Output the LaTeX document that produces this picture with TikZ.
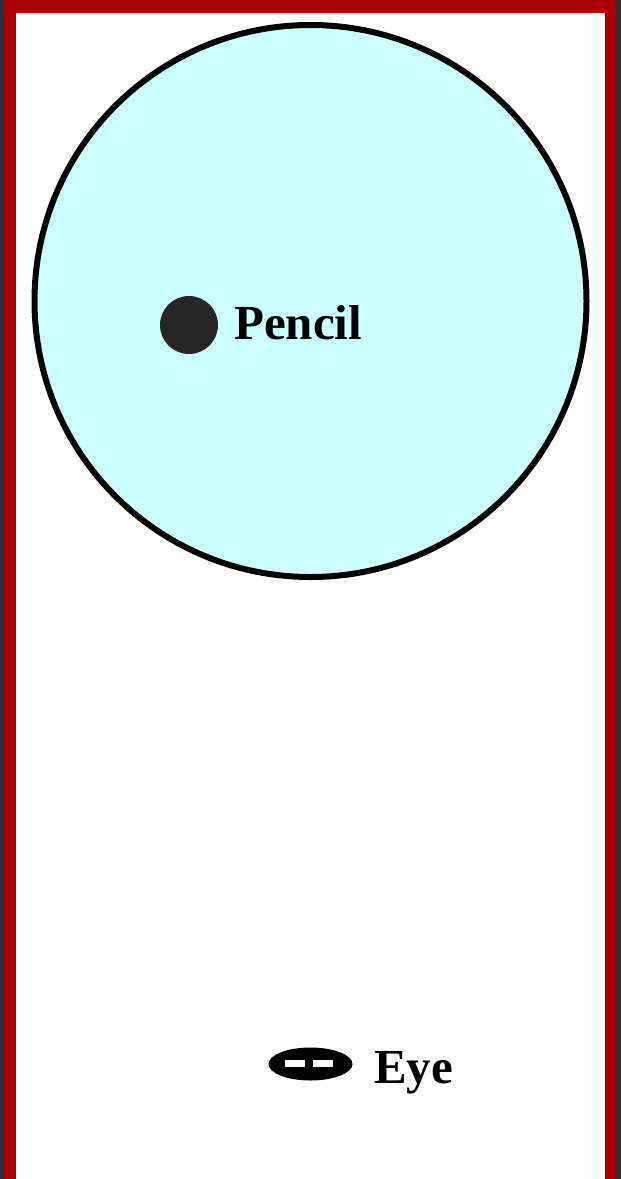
\documentclass[tikz,border=0pt]{standalone}
\usepackage{fontspec}
\setmainfont{Liberation Serif}
\usetikzlibrary{shapes.geometric}
\begin{document}
\begin{tikzpicture}[x=1pt,y=-1pt,
  lbl/.style={font=\bfseries\fontsize{49}{50}\selectfont, inner sep=0pt, anchor=base west}]
\definecolor{bgdark}{HTML}{2B3237}
\definecolor{framered}{HTML}{AA0000}
\definecolor{lens}{HTML}{CCFFFF}
\useasboundingbox (0,0) rectangle (621,1179);
\fill[bgdark] (0,0) rectangle (621,1179);
\fill[framered] (4,0) rectangle (616,1179);
\fill[white] (16,13) rectangle (605,1179);
% big circle
\draw[line width=6pt, fill=lens] (310.5,301) circle (276);
% pencil
\node[circle, fill=black!85, minimum size=58pt, inner sep=0pt] (pencil) at (189,325) {};
\node[lbl] (pencillbl) at (234,339) {Pencil};
% eye
\node[ellipse, fill=black, minimum width=84pt, minimum height=33pt, inner sep=0pt] (eye) at (310.5,1064) {};
\fill[white] (285,1060) rectangle (305,1067);
\fill[white] (313,1060) rectangle (333,1067);
\node[lbl] (eyelbl) at (374,1083) {Eye};
\end{tikzpicture}
\end{document}
